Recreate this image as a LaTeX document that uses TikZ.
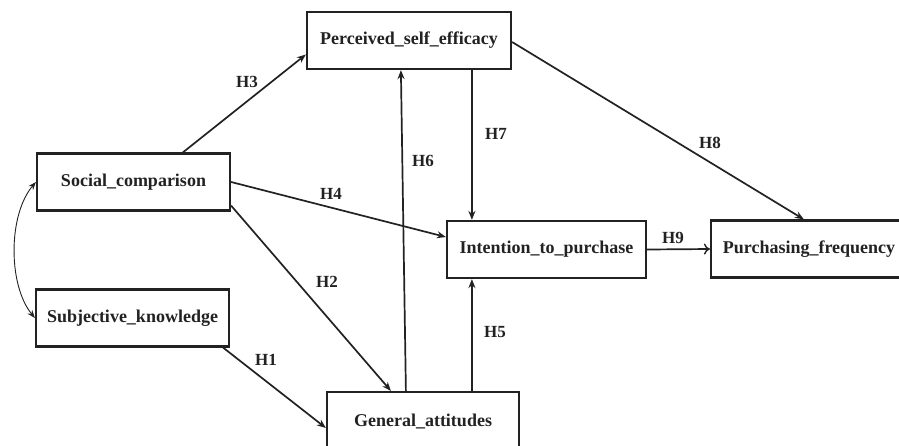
\documentclass[tikz,border=0pt]{standalone}
\usepackage{fontspec}
\setmainfont{Liberation Serif}
\usetikzlibrary{arrows.meta,calc}
\definecolor{ink}{HTML}{222222}
\tikzset{
  box/.style={draw=ink, line width=2.2pt, minimum height=57pt, inner sep=0pt, font=\fontsize{18}{20}\selectfont\bfseries, text=ink},
  conn/.style={draw=ink, line width=1.7pt, -{Stealth[length=9pt,width=7pt]}},
  openconn/.style={draw=ink, line width=1.7pt, -{To[length=6pt,width=11pt,line width=1.4pt]}},
  lab/.style={font=\fontsize{17}{18}\selectfont\bfseries, text=ink, inner sep=0pt},
}
\begin{document}
\begin{tikzpicture}[x=1pt,y=-1pt]
\useasboundingbox (0,0) rectangle (899,445);
\clip (0,0) rectangle (899,445);
\fill[white] (0,0) rectangle (899,445);
\node[box, minimum width=193pt] (soc) at (133.5,182) {Social\_comparison};
\node[box, minimum width=193pt] (sub) at (132.5,318) {Subjective\_knowledge};
\node[box, minimum width=204pt] (per) at (409,40.5) {Perceived\_self\_efficacy};
\node[box, minimum width=199pt] (int) at (546.5,249.5) {Intention\_to\_purchase};
\node[box, minimum width=196pt] (pur) at (809,249) {Purchasing\_frequency};
\node[box, minimum width=192pt, minimum height=58pt] (gen) at (423,421) {General\_attitudes};

\draw[conn] ([xshift=147pt]soc.north west) -- ([yshift=-14pt]per.west);
\draw[conn] (soc.east) -- ([yshift=12.5pt]int.west);
\draw[conn] ([yshift=6pt]soc.south east) -- ([xshift=65pt]gen.north west);
\draw[conn] ([xshift=-7pt]sub.south east) -- ([yshift=-7pt]gen.west);
\draw[conn] ([xshift=80pt]gen.north west) -- ([xshift=95pt]per.south west);
\draw[conn] ([xshift=166pt]per.south west) -- ([xshift=26pt]int.north west);
\draw[conn] ([xshift=146pt]gen.north west) -- ([xshift=26pt]int.south west);
\draw[conn] ([yshift=-1.5pt]per.east) -- ([xshift=94pt]pur.north west);
\draw[openconn] (int.east) -- (pur.west);
\draw[draw=ink, line width=0.9pt, {Stealth[length=8pt,width=6pt]}-{Stealth[length=8pt,width=6pt]}]
  (soc.west) .. controls (8,215) and (8,285) .. (sub.west);

\node[lab] (h3) at (247,82) {H3};
\node[lab] (h4) at (331,194) {H4};
\node[lab] (h2) at (327,282) {H2};
\node[lab] (h1) at (266,360) {H1};
\node[lab] (h6) at (423,161) {H6};
\node[lab] (h7) at (496,134) {H7};
\node[lab] (h5) at (495,332) {H5};
\node[lab] (h8) at (710,143) {H8};
\node[lab] (h9) at (673,238) {H9};
\end{tikzpicture}
\end{document}
